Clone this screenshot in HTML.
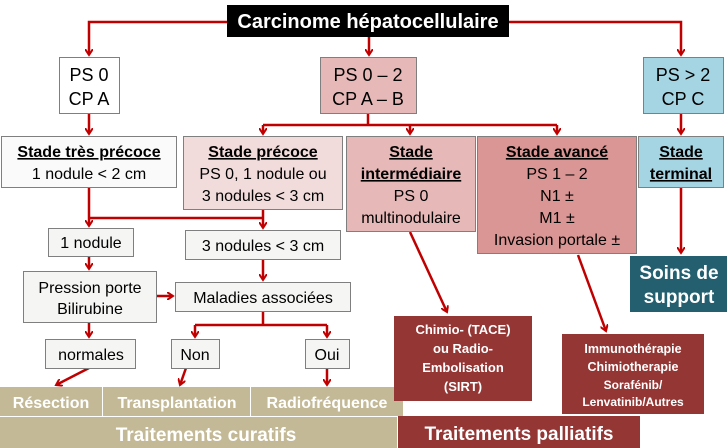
<!DOCTYPE html>
<html><head><meta charset="utf-8"><style>
html,body{margin:0;padding:0;background:#fff}
svg{display:block;font-family:"Liberation Sans",Arial,sans-serif}
</style></head><body>
<svg width="727" height="448" viewBox="0 0 727 448" xmlns="http://www.w3.org/2000/svg">
<defs><marker id="a" markerWidth="8" markerHeight="8" refX="6" refY="4" orient="auto" markerUnits="userSpaceOnUse"><path d="M0,0 L6,4 L0,8" fill="none" stroke="#c00000" stroke-width="2"/></marker></defs>
<g stroke="#c00000" stroke-width="2.5" fill="none">
<polyline points="227,22 89,22 89,55" marker-end="url(#a)"/>
<polyline points="509,22 681,22 681,55" marker-end="url(#a)"/>
<line x1="369" y1="37" x2="369" y2="55" marker-end="url(#a)"/>
<line x1="89" y1="113" x2="89" y2="134" marker-end="url(#a)"/>
<line x1="681" y1="113" x2="681" y2="134" marker-end="url(#a)"/>
<polyline points="368,113 368,125"/>
<line x1="263" y1="125" x2="557" y2="125"/>
<line x1="263" y1="125" x2="263" y2="134" marker-end="url(#a)"/>
<line x1="410" y1="125" x2="410" y2="134" marker-end="url(#a)"/>
<line x1="557" y1="125" x2="557" y2="134" marker-end="url(#a)"/>
<line x1="89" y1="187" x2="89" y2="226" marker-end="url(#a)"/>
<line x1="89" y1="218" x2="263" y2="218"/>
<line x1="263" y1="209" x2="263" y2="228" marker-end="url(#a)"/>
<line x1="89" y1="256" x2="89" y2="269" marker-end="url(#a)"/>
<line x1="263" y1="259" x2="263" y2="280" marker-end="url(#a)"/>
<line x1="156" y1="296" x2="173" y2="296" marker-end="url(#a)"/>
<line x1="89" y1="322" x2="89" y2="337" marker-end="url(#a)"/>
<polyline points="263,311 263,325"/>
<line x1="195" y1="325" x2="327" y2="325"/>
<line x1="195" y1="325" x2="195" y2="337" marker-end="url(#a)"/>
<line x1="327" y1="325" x2="327" y2="337" marker-end="url(#a)"/>
<line x1="89" y1="368" x2="56" y2="385" marker-end="url(#a)"/>
<line x1="186" y1="368" x2="180" y2="385" marker-end="url(#a)"/>
<line x1="327" y1="368" x2="327" y2="385" marker-end="url(#a)"/>
<line x1="410" y1="232" x2="447" y2="312" marker-end="url(#a)"/>
<line x1="578" y1="255" x2="606" y2="331" marker-end="url(#a)"/>
<line x1="681" y1="187" x2="681" y2="253" marker-end="url(#a)"/>
</g>
<g stroke="#7f7f7f" stroke-width="1">
<rect x="227" y="5" width="282" height="32" fill="#000" stroke="none"/>
<rect x="59.5" y="57.5" width="60" height="56" fill="#fff"/>
<rect x="320.5" y="57.5" width="96" height="56" fill="#e6b8b7"/>
<rect x="643.5" y="57.5" width="80" height="56" fill="#a5d5e3"/>
<rect x="1.5" y="136.5" width="175" height="51" fill="#fafafa"/>
<rect x="183.5" y="136.5" width="159" height="73" fill="#f2dcdb"/>
<rect x="346.5" y="136.5" width="129" height="95" fill="#e6b8b7"/>
<rect x="477.5" y="136.5" width="159" height="117" fill="#d99694"/>
<rect x="638.5" y="136.5" width="85" height="51" fill="#a5d5e3"/>
<rect x="48.5" y="228.5" width="85" height="28" fill="#f5f5f3"/>
<rect x="185.5" y="230.5" width="155" height="29" fill="#f5f5f3"/>
<rect x="23.5" y="271.5" width="133" height="51" fill="#f5f5f3"/>
<rect x="175.5" y="282.5" width="175" height="29" fill="#f5f5f3"/>
<rect x="45.5" y="339.5" width="90" height="29" fill="#f5f5f3"/>
<rect x="171.5" y="339.5" width="48" height="29" fill="#f5f5f3"/>
<rect x="305.5" y="339.5" width="44" height="29" fill="#f5f5f3"/>
</g>
<rect x="0" y="387" width="102" height="29" fill="#c4b996"/>
<rect x="103" y="387" width="147" height="29" fill="#c4b996"/>
<rect x="251" y="387" width="152" height="29" fill="#c4b996"/>
<rect x="0" y="417" width="397" height="31" fill="#c4b996"/>
<rect x="398" y="416" width="242" height="32" fill="#943634"/>
<rect x="394" y="316" width="138" height="85" fill="#943634"/>
<rect x="562" y="334" width="142" height="80" fill="#943634"/>
<rect x="630" y="256" width="97" height="56" fill="#235f6f"/>
<g font-size="16" fill="#000" text-anchor="middle">
<text x="368" y="28" fill="#fff" font-weight="bold" font-size="20">Carcinome hépatocellulaire</text>
<text x="89" y="81" font-size="18">PS 0</text><text x="89" y="105" font-size="18">CP A</text>
<text x="368" y="81" font-size="18">PS 0 – 2</text><text x="368" y="105" font-size="18">CP A – B</text>
<text x="683" y="81" font-size="18">PS &gt; 2</text><text x="683" y="105" font-size="18">CP C</text>
<text x="89" y="157" font-weight="bold" text-decoration="underline">Stade très précoce</text>
<text x="89" y="179">1 nodule &lt; 2 cm</text>
<text x="263" y="157" font-weight="bold" text-decoration="underline">Stade précoce</text>
<text x="263" y="179">PS 0, 1 nodule ou</text>
<text x="263" y="201">3 nodules &lt; 3 cm</text>
<text x="411" y="157" font-weight="bold" text-decoration="underline">Stade</text>
<text x="411" y="179" font-weight="bold" text-decoration="underline">intermédiaire</text>
<text x="411" y="201">PS 0</text>
<text x="411" y="223">multinodulaire</text>
<text x="557" y="157" font-weight="bold" text-decoration="underline">Stade avancé</text>
<text x="557" y="179">PS 1 – 2</text>
<text x="557" y="201">N1 ±</text>
<text x="557" y="223">M1 ±</text>
<text x="557" y="245">Invasion portale ±</text>
<text x="681" y="157" font-weight="bold" text-decoration="underline">Stade</text>
<text x="681" y="179" font-weight="bold" text-decoration="underline">terminal</text>
<text x="91" y="248">1 nodule</text>
<text x="263" y="251">3 nodules &lt; 3 cm</text>
<text x="90" y="293">Pression porte</text>
<text x="90" y="314">Bilirubine</text>
<text x="263" y="303">Maladies associées</text>
<text x="91" y="360">normales</text>
<text x="195" y="360">Non</text>
<text x="327" y="360">Oui</text>
</g>
<g fill="#fff" font-weight="bold" text-anchor="middle">
<text x="51" y="408" font-size="16">Résection</text>
<text x="177" y="408" font-size="16">Transplantation</text>
<text x="327" y="408" font-size="16">Radiofréquence</text>
<text x="206" y="441" font-size="19">Traitements curatifs</text>
<text x="519" y="440" font-size="19">Traitements palliatifs</text>
<text x="463" y="334" font-size="13">Chimio- (TACE)</text>
<text x="463" y="353" font-size="13">ou Radio-</text>
<text x="463" y="372" font-size="13">Embolisation</text>
<text x="463" y="391" font-size="13">(SIRT)</text>
<text x="633" y="353" font-size="12.5">Immunothérapie</text>
<text x="633" y="371" font-size="12.5">Chimiotherapie</text>
<text x="633" y="389" font-size="12">Sorafénib/</text>
<text x="633" y="406" font-size="12">Lenvatinib/Autres</text>
<text x="679" y="279" font-size="19">Soins de</text>
<text x="679" y="303" font-size="19">support</text>
</g>
</svg>
</body></html>
